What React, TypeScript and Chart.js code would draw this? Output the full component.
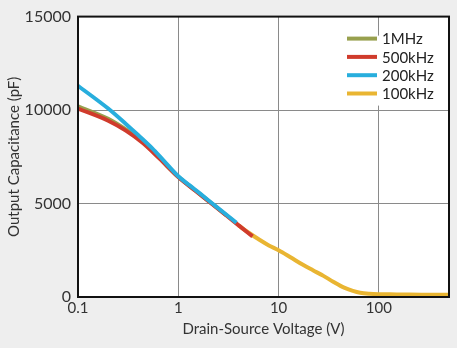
import React, { useEffect, useRef } from "react";
import { Chart, registerables } from "chart.js";

Chart.register(...registerables);

// ---- Data ----
const seriesNames = ["1MHz", "500kHz", "200kHz", "100kHz"];
const seriesColors = ["#98a04e", "#d03b2c", "#28aedd", "#e9b532"];

const v1MHz = [0.1, 0.2, 0.3, 0.44, 0.65, 1, 1.5, 2.2, 3];
const c1MHz = [10200, 9530, 8960, 8320, 7430, 6430, 5670, 4960, 4380];

const v500kHz = [0.1, 0.2, 0.3, 0.44, 0.65, 1, 1.5, 2.2, 3, 4, 5.5];
const c500kHz = [10080, 9430, 8900, 8250, 7400, 6420, 5660, 4950, 4370, 3830, 3240];

const v200kHz = [0.1, 0.2, 0.3, 0.4, 0.55, 0.7, 1, 1.3, 1.64, 2.2, 3, 3.8];
const c200kHz = [11300, 10080, 9260, 8650, 7950, 7350, 6460, 5970, 5540, 4990, 4410, 3970];

const v100kHz = [4, 5, 6.5, 8, 10, 13, 17.5, 22, 28, 35, 45, 55, 65, 80, 100, 150, 200, 300, 500];
const c100kHz = [3830, 3450, 3050, 2760, 2500, 2140, 1720, 1430, 1130, 820, 500, 330, 230, 175, 150, 140, 130, 125, 120];

const xTickValues = [0.1, 1, 10, 100];
const xTickLabels = ["0.1", "1", "10", "100"];
const yTickLabels = ["0", "5000", "10000", "15000"];

const xTitle = "Drain-Source Voltage (V)";
const yTitle = "Output Capacitance (pF)";

const FONT = "Lato, 'DejaVu Sans', sans-serif";

function pts(xs: number[], ys: number[]) {
  return xs.map((x, i) => ({ x, y: ys[i] }));
}

export default function App() {
  const ref = useRef<HTMLCanvasElement | null>(null);

  useEffect(() => {
    document.body.style.margin = "0";
    document.body.style.background = "#eeeeee";
    const canvas = ref.current;
    if (!canvas) return;

    const seriesX = [v1MHz, v500kHz, v200kHz, v100kHz];
    const seriesY = [c1MHz, c500kHz, c200kHz, c100kHz];
    const drawOrder = [2, 1, 0, 3];

    const bgPlugin = {
      id: "bg",
      beforeDraw(chart: any) {
        const { ctx, chartArea } = chart;
        ctx.save();
        ctx.fillStyle = "#eeeeee";
        ctx.fillRect(0, 0, chart.width, chart.height);
        ctx.fillStyle = "#ffffff";
        ctx.fillRect(chartArea.left, chartArea.top, chartArea.right - chartArea.left, chartArea.bottom - chartArea.top);
        ctx.restore();
      },
      beforeDatasetsDraw(chart: any) {
        const { ctx, chartArea } = chart;
        ctx.save();
        ctx.fillStyle = "#ffffff";
        ctx.fillRect(chartArea.right - 105, chartArea.top + 19, 96, 70);
        ctx.restore();
      },
      afterDraw(chart: any) {
        const { ctx, chartArea } = chart;
        ctx.save();
        ctx.strokeStyle = "#111111";
        ctx.lineWidth = 2;
        ctx.strokeRect(chartArea.left, chartArea.top, chartArea.right - chartArea.left, chartArea.bottom - chartArea.top);
        const lx = chartArea.right - 102;
        const ly = chartArea.top + 22;
        ctx.font = `15px ${FONT}`;
        ctx.textBaseline = "middle";
        ctx.textAlign = "left";
        seriesNames.forEach((name, i) => {
          const y = ly + i * 18.3;
          ctx.strokeStyle = seriesColors[i];
          ctx.lineWidth = 4;
          ctx.beginPath();
          ctx.moveTo(lx, y);
          ctx.lineTo(lx + 30, y);
          ctx.stroke();
          ctx.fillStyle = "#222222";
          ctx.fillText(name, lx + 35, y + 1);
        });
        ctx.restore();
      },
    };

    const chart = new Chart(canvas, {
      type: "line",
      data: {
        datasets: seriesNames.map((name, i) => ({
          label: name,
          data: pts(seriesX[i], seriesY[i]),
          borderColor: seriesColors[i],
          backgroundColor: seriesColors[i],
          borderWidth: 4,
          pointRadius: 0,
          cubicInterpolationMode: "monotone" as const,
          fill: false,
          order: drawOrder[i],
        })),
      },
      options: {
        responsive: false,
        animation: false,
        parsing: false as any,
        layout: { padding: { top: 13, right: 8, left: 0, bottom: 0 } },
        plugins: { legend: { display: false }, tooltip: { enabled: false } },
        scales: {
          x: {
            type: "logarithmic",
            min: 0.1,
            max: 500,
            afterBuildTicks: (scale: any) => {
              scale.ticks = xTickValues.map((v) => ({ value: v }));
            },
            afterFit: (scale: any) => {
              scale.height = 51;
            },
            ticks: {
              autoSkip: false,
              maxRotation: 0,
              padding: 2,
              color: "#333333",
              font: { family: FONT, size: 15 },
              callback: (value: any) => {
                const idx = xTickValues.findIndex((v) => Math.abs(v - Number(value)) < 1e-9);
                return idx >= 0 ? xTickLabels[idx] : "";
              },
            },
            grid: { color: "#8a8a8a", lineWidth: 1, drawTicks: false },
            border: { display: false },
            title: {
              display: true,
              text: xTitle,
              color: "#333333",
              font: { family: FONT, size: 15 },
              padding: { top: 0, bottom: 10 },
            },
          },
          y: {
            type: "linear",
            min: 0,
            max: 15000,
            afterFit: (scale: any) => {
              scale.width = 78;
            },
            ticks: {
              stepSize: 5000,
              padding: 7,
              color: "#333333",
              font: { family: FONT, size: 16 },
              callback: (value: any) => yTickLabels[Math.round(Number(value) / 5000)] ?? "",
            },
            grid: { color: "#8a8a8a", lineWidth: 1, drawTicks: false },
            border: { display: false },
            title: {
              display: true,
              text: yTitle,
              color: "#333333",
              font: { family: FONT, size: 15 },
              padding: { top: 5, bottom: 0 },
            },
          },
        },
      },
      plugins: [bgPlugin],
    });

    return () => chart.destroy();
  }, []);

  return <canvas ref={ref} width={457} height={348} style={{ display: "block" }} />;
}
